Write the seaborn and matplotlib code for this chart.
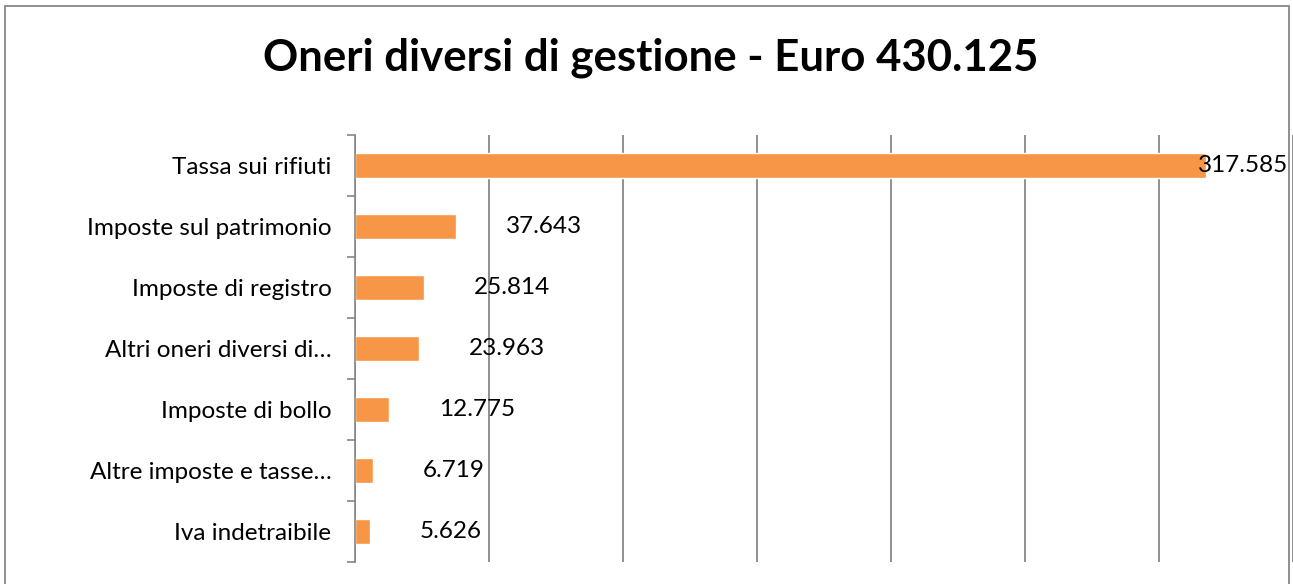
import matplotlib
matplotlib.use("Agg")
import matplotlib.pyplot as plt
import seaborn as sns
import pandas as pd
from matplotlib.patches import Rectangle
from matplotlib.ticker import MultipleLocator, FixedLocator

categories = [
    "Tassa sui rifiuti",
    "Imposte sul patrimonio",
    "Imposte di registro",
    "Altri oneri diversi di…",
    "Imposte di bollo",
    "Altre imposte e tasse…",
    "Iva indetraibile",
]
values = [317585, 37643, 25814, 23963, 12775, 6719, 5626]
value_labels = ["317.585", "37.643", "25.814", "23.963", "12.775", "6.719", "5.626"]
title = "Oneri diversi di gestione - Euro 430.125"

sns.set_theme(style="white")
plt.rcParams["font.family"] = ["Lato", "DejaVu Sans"]

df = pd.DataFrame({"categoria": categories, "valore": values})

W, H = 1293, 584
fig = plt.figure(figsize=(W / 100, H / 100), dpi=100)
ax = fig.add_axes([355 / W, (H - 562) / H, (W - 355) / W, 427 / H])

sns.barplot(data=df, x="valore", y="categoria", color="#F79646",
            saturation=1, width=0.4, ax=ax, orient="h")

ax.set_xlim(0, 350000)
ax.xaxis.set_major_locator(MultipleLocator(50000))
ax.grid(axis="x", color="#868686", linewidth=1.3)
ax.grid(axis="y", visible=False)
ax.set_axisbelow(True)
ax.set_xlabel("")
ax.set_ylabel("")
ax.tick_params(axis="x", bottom=False, labelbottom=False)
ax.tick_params(axis="y", length=0, pad=17, labelsize=17.5, labelcolor="black")
# category boundary ticks
ax.yaxis.set_minor_locator(FixedLocator([i - 0.5 for i in range(len(categories) + 1)]))
ax.tick_params(axis="y", which="minor", left=True, length=6, width=1.2, color="#868686")
for s in ["top", "right", "bottom"]:
    ax.spines[s].set_visible(False)
ax.spines["left"].set_color("#868686")
ax.spines["left"].set_linewidth(1.2)

for i, (v, lab) in enumerate(zip(values, value_labels)):
    if v > 0.8 * 350000:
        ax.annotate(lab, (v, i), xytext=(-6, 0), textcoords="offset points",
                    va="center", ha="left", fontsize=17.5, color="black")
    else:
        ax.annotate(lab, (v, i), xytext=(36, 0), textcoords="offset points",
                    va="center", ha="left", fontsize=17.5, color="black")

fig.text(651 / W, (H - 58) / H, title, ha="center", va="center",
         fontsize=31.5, fontweight="bold", color="black")

fig.patches.append(Rectangle((5 / W, -0.05), 1284 / W, (H - 6) / H + 0.05,
                             transform=fig.transFigure, fill=False,
                             edgecolor="#868686", linewidth=1.3))

fig.savefig("out.png", dpi=100)
